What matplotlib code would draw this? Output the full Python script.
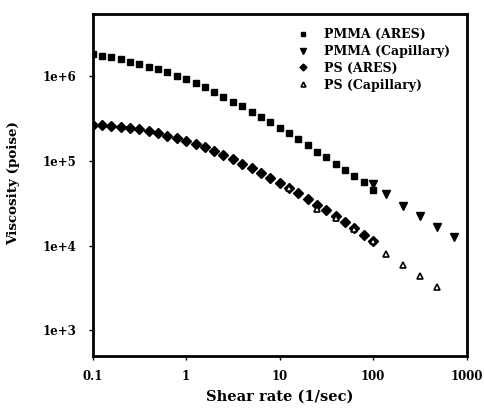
import numpy as np
import matplotlib
matplotlib.use("Agg")
import matplotlib.pyplot as plt

# Data (log10 of viscosity)
x_ares = [0.1, 0.126, 0.158, 0.2, 0.251, 0.316, 0.398, 0.501, 0.631, 0.794,
          1.0, 1.26, 1.58, 2.0, 2.51, 3.16, 3.98, 5.01, 6.31, 7.94,
          10.0, 12.6, 15.8, 20.0, 25.1, 31.6, 39.8, 50.1, 63.1, 79.4, 100.0]
pmma_ares_log = [6.255, 6.231, 6.216, 6.196, 6.165, 6.141, 6.106, 6.078, 6.039, 5.996,
                 5.957, 5.914, 5.863, 5.812, 5.753, 5.694, 5.643, 5.576, 5.510, 5.451,
                 5.388, 5.329, 5.251, 5.180, 5.106, 5.039, 4.961, 4.890, 4.824, 4.745, 4.655]
ps_ares_log = [5.420, 5.416, 5.412, 5.400, 5.384, 5.369, 5.349, 5.322, 5.290, 5.263,
               5.227, 5.192, 5.157, 5.114, 5.063, 5.016, 4.961, 4.910, 4.855, 4.796,
               4.737, 4.675, 4.616, 4.549, 4.482, 4.420, 4.349, 4.282, 4.204, 4.125, 4.051]
x_pmma_cap = [100, 139, 210, 316, 478, 736]
pmma_cap_log = [4.722, 4.604, 4.471, 4.349, 4.224, 4.098]
x_ps_cap = [12.6, 25.1, 39.8, 63.1, 100, 139, 210, 316, 478]
ps_cap_log = [4.675, 4.427, 4.322, 4.192, 4.051, 3.898, 3.773, 3.647, 3.510]

labels = ["PMMA (ARES)", "PMMA (Capillary)", "PS (ARES)", "PS (Capillary)"]
xticks = [0.1, 1, 10, 100, 1000]
xticklabels = ["0.1", "1", "10", "100", "1000"]
yticks = [1e3, 1e4, 1e5, 1e6]
yticklabels = ["1e+3", "1e+4", "1e+5", "1e+6"]

plt.rcParams['font.family'] = ['DejaVu Serif']
plt.rcParams['font.weight'] = 'bold'

fig = plt.figure(figsize=(4.85, 4.12), dpi=100)
ax = fig.add_axes([0.191, 0.136, 0.771, 0.830])

pw = lambda a: 10 ** np.array(a)
ax.plot(x_ares, pw(pmma_ares_log), linestyle='none', marker='s', ms=5, color='black', label=labels[0])
ax.plot(x_pmma_cap, pw(pmma_cap_log), linestyle='none', marker='v', ms=6, color='black', label=labels[1])
ax.plot(x_ares, pw(ps_ares_log), linestyle='none', marker='D', ms=5, color='black', label=labels[2])
ax.plot(x_ps_cap, pw(ps_cap_log), linestyle='none', marker='^', ms=5, mfc='white', mec='black', mew=1.2, color='black', label=labels[3])

ax.set_xscale('log')
ax.set_yscale('log')
ax.set_xlim(0.1, 1000)
ax.set_ylim(10 ** 2.70, 10 ** 6.726)
ax.set_xticks(xticks)
ax.set_xticklabels(xticklabels)
ax.set_yticks(yticks)
ax.set_yticklabels(yticklabels)
ax.minorticks_off()
ax.tick_params(direction='out', length=3, width=1, labelsize=8.5)
ax.tick_params(axis='x', pad=7)
ax.tick_params(axis='y', pad=8.5)
for s in ax.spines.values():
    s.set_linewidth(2)

ax.set_xlabel("Shear rate (1/sec)", fontsize=10.5, fontweight='bold', labelpad=5)
fig.text(0.027, 0.556, "Viscosity (poise)", rotation=90, ha='center', va='center',
         fontsize=9.7, fontweight='bold')

leg = ax.legend(loc='upper left', bbox_to_anchor=(0.545, 0.958), frameon=False,
                fontsize=9, labelspacing=0.3, handletextpad=1.2, markerscale=0.7,
                handlelength=1.0, borderaxespad=0, borderpad=0)

fig.savefig("out.png", dpi=100)
